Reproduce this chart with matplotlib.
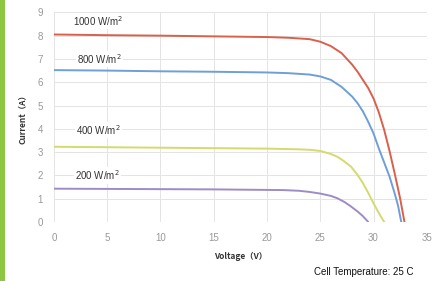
import matplotlib
matplotlib.use("Agg")
import matplotlib.pyplot as plt
from matplotlib.patches import Rectangle

plt.rcParams['font.family'] = ['Liberation Sans', 'Noto Sans CJK SC', 'DejaVu Sans']

# I-V curves (voltage V, current A)
v_1000 = [0, 5, 10, 15, 20, 22, 24, 25, 26, 27, 28, 28.5, 29, 29.5, 30, 30.5, 31, 31.5, 32, 32.5, 32.9]
i_1000 = [8.05, 8.02, 8.0, 7.97, 7.94, 7.91, 7.85, 7.74, 7.55, 7.25, 6.75, 6.45, 6.1, 5.75, 5.3, 4.7, 3.95, 3.05, 2.05, 1.0, 0.0]

v_800 = [0, 5, 10, 15, 20, 22, 24, 25, 26, 27, 28, 28.5, 29, 29.5, 30, 30.5, 31, 31.5, 32, 32.3, 32.6]
i_800 = [6.52, 6.5, 6.47, 6.45, 6.42, 6.39, 6.33, 6.25, 6.1, 5.8, 5.38, 5.1, 4.75, 4.3, 3.8, 3.15, 2.55, 1.95, 1.2, 0.7, 0.0]

v_400 = [0, 5, 10, 15, 20, 23, 24, 25, 26, 26.6, 27.2, 27.9, 28.5, 29, 29.5, 30, 30.5, 31.0]
i_400 = [3.23, 3.21, 3.19, 3.17, 3.15, 3.12, 3.1, 3.05, 2.92, 2.8, 2.62, 2.37, 2.02, 1.67, 1.25, 0.8, 0.38, 0.0]

v_200 = [0, 5, 10, 15, 21.5, 23, 24, 25, 26, 26.6, 27.3, 27.9, 28.5, 29, 29.5]
i_200 = [1.43, 1.42, 1.41, 1.40, 1.37, 1.34, 1.29, 1.22, 1.12, 1.02, 0.85, 0.66, 0.45, 0.25, 0.0]

labels = ["1000 W/m$^2$", "800 W/m$^2$", "400 W/m$^2$", "200 W/m$^2$"]
label_pos = [(1.8, 8.63), (2.2, 7.0), (2.1, 3.95), (2.0, 2.0)]
colors = ["#d9604b", "#6f9fd6", "#d5da6e", "#9d8cc6"]

fig = plt.figure(figsize=(4.46, 2.81), dpi=100)
ax = fig.add_axes([0.121, 0.21, 0.836, 0.746])

for v, i, c in zip([v_1000, v_800, v_400, v_200], [i_1000, i_800, i_400, i_200], colors):
    ax.plot(v, i, color=c, lw=1.4, solid_capstyle="round", solid_joinstyle="round", zorder=3)

for txt, (x, y) in zip(labels, label_pos):
    ax.text(x, y, txt, fontsize=7, color="#333333", va="center", ha="left",
            bbox=dict(facecolor="white", edgecolor="none", pad=1.0), zorder=4)

ax.set_xlim(0, 35)
ax.set_ylim(0, 9)
ax.set_xticks(range(0, 36, 5))
ax.set_yticks(range(0, 10))
ax.grid(True, color="#e4e4e4", lw=0.7)
ax.set_axisbelow(True)
for s in ax.spines.values():
    s.set_visible(False)
ax.tick_params(length=0, labelsize=7, colors="#999999", pad=8)

ax.set_xlabel("Voltage（V）", fontsize=6, fontweight="bold", color="#333333",
              family=['Noto Sans CJK SC', 'DejaVu Sans'], labelpad=6)
ax.set_ylabel("Current（A）", fontsize=6, fontweight="bold", color="#333333",
              family=['Noto Sans CJK SC', 'DejaVu Sans'], labelpad=8)

fig.text(0.815, 0.032, "Cell Temperature: 25 C", fontsize=7, color="#111111", ha="center", va="center")

# green stripe on the left edge
fig.patches.append(Rectangle((0, 0), 4.5 / 446, 1, transform=fig.transFigure,
                             facecolor="#8dc63f", edgecolor="none"))

fig.savefig("out.png", dpi=100)
